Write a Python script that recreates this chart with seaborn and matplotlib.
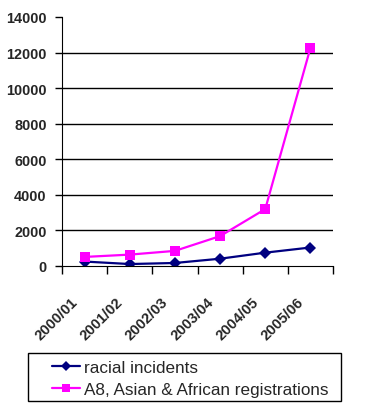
import matplotlib
matplotlib.use("Agg")
import matplotlib.pyplot as plt
import matplotlib.transforms as mtransforms
from matplotlib.patches import Rectangle
import seaborn as sns
import pandas as pd
import numpy as np

# data
years = ['2000/01', '2001/02', '2002/03', '2003/04', '2004/05', '2005/06']
racial_incidents = [250, 110, 170, 410, 750, 1040]
registrations = [510, 640, 850, 1680, 3200, 12260]
series_names = ['racial incidents', 'A8, Asian & African registrations']

sns.set_style("white")
plt.rcParams['font.family'] = ['Liberation Sans', 'DejaVu Sans']

df_ri = pd.DataFrame({'pos': range(len(years)), 'value': racial_incidents})
df_reg = pd.DataFrame({'pos': range(len(years)), 'value': registrations})

W, H = 377, 410
fig = plt.figure(figsize=(W / 100, H / 100), dpi=100)
ax = fig.add_axes([62 / W, (H - 267) / H, (333 - 62) / W, (267 - 18) / H])

ax.set_ylim(0, 14000)
ax.set_xlim(-0.5, len(years) - 0.5)
for y in range(2000, 14000, 2000):
    ax.axhline(y, color='black', lw=1, zorder=0)

sns.lineplot(data=df_ri, x='pos', y='value', color='#000080', marker='D',
             markersize=6.5, markeredgewidth=0, lw=1.6, ax=ax,
             label=series_names[0])
sns.lineplot(data=df_reg, x='pos', y='value', color='#FF00FF', marker='s',
             markersize=6.8, markeredgewidth=0, lw=1.6, ax=ax,
             label=series_names[1])

ax.set_xlabel('')
ax.set_ylabel('')
ax.set_yticks(range(0, 14001, 2000))
ax.set_yticklabels([str(v) for v in range(0, 14001, 2000)], fontsize=10.4, fontweight='bold')
ax.tick_params(axis='y', length=5, width=1, color='black', direction='out', left=True, pad=6)

ax.set_xticks(range(len(years)))
ax.set_xticklabels(years, rotation=45, ha='right', va='baseline', rotation_mode='anchor',
                   fontsize=10.6, fontweight='bold')
ax.tick_params(axis='x', length=0, pad=26)
ax.set_xticks(np.arange(-0.5, len(years)), minor=True)
ax.tick_params(axis='x', which='minor', length=6, width=1, color='black', direction='out', bottom=True)

sns.despine(ax=ax)
ax.spines['left'].set_color('black')
ax.spines['bottom'].set_color('black')

# legend box drawn as a plain rectangle, legend itself without frame
handles, labels = ax.get_legend_handles_labels()
ax.get_legend().remove()
fig.patches.append(Rectangle((28 / W, (H - 402) / H), (341 - 28) / W, 48 / H,
                             transform=fig.transFigure, fill=False,
                             edgecolor='black', lw=1))
leg = fig.legend(handles, labels, loc='center left',
                 bbox_to_anchor=(52 / W, (H - 379.5) / H),
                 bbox_transform=fig.transFigure, frameon=False,
                 fontsize=12.3, handlelength=1.65, handletextpad=0.24,
                 labelspacing=0.45, borderpad=0, borderaxespad=0, markerscale=0.85)

# nudge the rotated category labels a bit to the left
fig.canvas.draw()
offset = mtransforms.ScaledTranslation(-6 / 100, 0, fig.dpi_scale_trans)
for tick in ax.xaxis.get_major_ticks():
    tick.label1.set_transform(tick.label1.get_transform() + offset)

fig.savefig('out.png', dpi=100)
